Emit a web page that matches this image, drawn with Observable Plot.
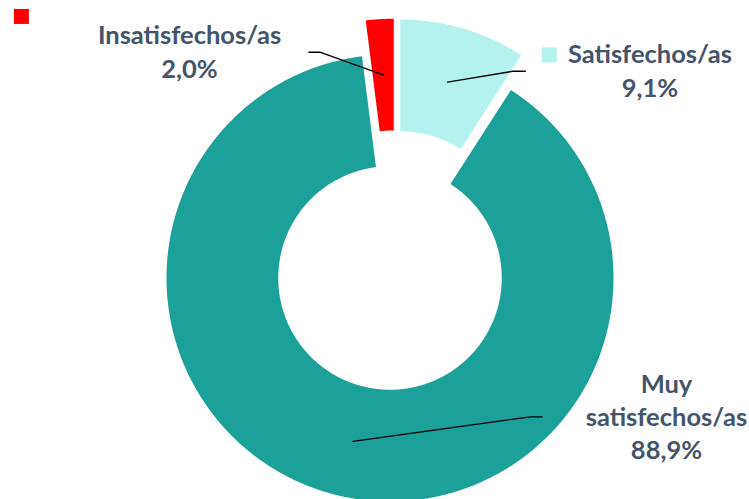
<!DOCTYPE html>
<html><head><meta charset="utf-8">
<script src="https://cdn.jsdelivr.net/npm/d3@7"></script>
<script src="https://cdn.jsdelivr.net/npm/@observablehq/plot@0.6"></script>
<style>html,body{margin:0;padding:0;background:#fff;overflow:hidden;}</style>
</head><body><div id="chart"></div>
<script>
// ---- data ----
const categories = ["Satisfechos/as", "Muy satisfechos/as", "Insatisfechos/as"];
const values = [9.1, 88.9, 2.0];
const valueLabels = ["9,1%", "88,9%", "2,0%"];
const nameLines = [["Satisfechos/as"], ["Muy", "satisfechos/as"], ["Insatisfechos/as"]];
const colors = ["#B3F2EF", "#1BA19A", "#FF0000"];

// ---- layout (data units: outer radius = 1) ----
const W = 749, H = 499, R = 223.5, CX = 389.5, CY = 277.5;
const innerRatio = 0.5;
const explode = [{dist: 0.163}, {dist: 0}, {dist: 0.161, angleDeg: 6}];
const labelPos = [{x: 1.163, y: 0.812}, {x: 1.237, y: -0.812}, {x: -0.897, y: 0.897}];
const leaderElbow = [{x: 0.549, y: 0.925}, {x: 0.629, y: -0.621}, {x: -0.311, y: 1.010}];
const leaderEnd = [{x: 0.606, y: 0.925}, {x: 0.681, y: -0.621}, {x: -0.363, y: 1.010}];
const keyPos = [{x: 0.715, y: 0.996}, null, {x: -1.647, y: 1.168}];
const keyHalf = 7.5 / R;

const arcs = d3.pie().sort(null).value(d => d)(values);
const slicePts = [];
const leaders = [];
arcs.forEach((a, i) => {
  const mid = (a.startAngle + a.endAngle) / 2;
  const e = explode[i];
  const dir = e.angleDeg != null ? e.angleDeg * Math.PI / 180 : mid;
  const ox = e.dist * Math.sin(dir), oy = e.dist * Math.cos(dir);
  const n = Math.max(4, Math.ceil((a.endAngle - a.startAngle) / 0.005));
  const cat = categories[i];
  for (let k = 0; k <= n; k++) {
    const t = a.startAngle + (a.endAngle - a.startAngle) * k / n;
    slicePts.push({cat, x: ox + Math.sin(t), y: oy + Math.cos(t)});
  }
  for (let k = n; k >= 0; k--) {
    const t = a.startAngle + (a.endAngle - a.startAngle) * k / n;
    slicePts.push({cat, x: ox + innerRatio * Math.sin(t), y: oy + innerRatio * Math.cos(t)});
  }
  const rm = (1 + innerRatio) / 2;
  leaders.push({cat, x: ox + rm * Math.sin(mid), y: oy + rm * Math.cos(mid)});
  leaders.push({cat, ...leaderElbow[i]});
  leaders.push({cat, ...leaderEnd[i]});
});

const labels = categories.map((c, i) => ({
  cat: c, x: labelPos[i].x, y: labelPos[i].y,
  text: [...nameLines[i], valueLabels[i]].join("\n")
}));
const keys = categories.map((c, i) => keyPos[i] ? {cat: c, ...keyPos[i]} : null).filter(d => d);

const chart = Plot.plot({
  width: W, height: H, margin: 0,
  x: {domain: [-CX / R, (W - CX) / R], axis: null},
  y: {domain: [-(H - CY) / R, CY / R], axis: null},
  color: {domain: categories, range: colors},
  style: {fontFamily: "Lato, 'Open Sans', sans-serif", background: "#fff"},
  marks: [
    Plot.line(slicePts, {x: "x", y: "y", z: "cat", fill: "cat", stroke: "none", curve: "linear"}),
    Plot.line(leaders, {x: "x", y: "y", z: "cat", stroke: "#000", strokeWidth: 1.3}),
    Plot.rect(keys, {x1: d => d.x - keyHalf, x2: d => d.x + keyHalf, y1: d => d.y - keyHalf, y2: d => d.y + keyHalf, fill: "cat"}),
    Plot.text(labels, {x: "x", y: "y", text: "text", lineAnchor: "bottom", textAnchor: "middle",
      lineHeight: 1.3, fontSize: 25.5, fontWeight: "bold", fill: "#44546A"})
  ]
});
document.getElementById("chart").appendChild(chart);
</script>
</body></html>
